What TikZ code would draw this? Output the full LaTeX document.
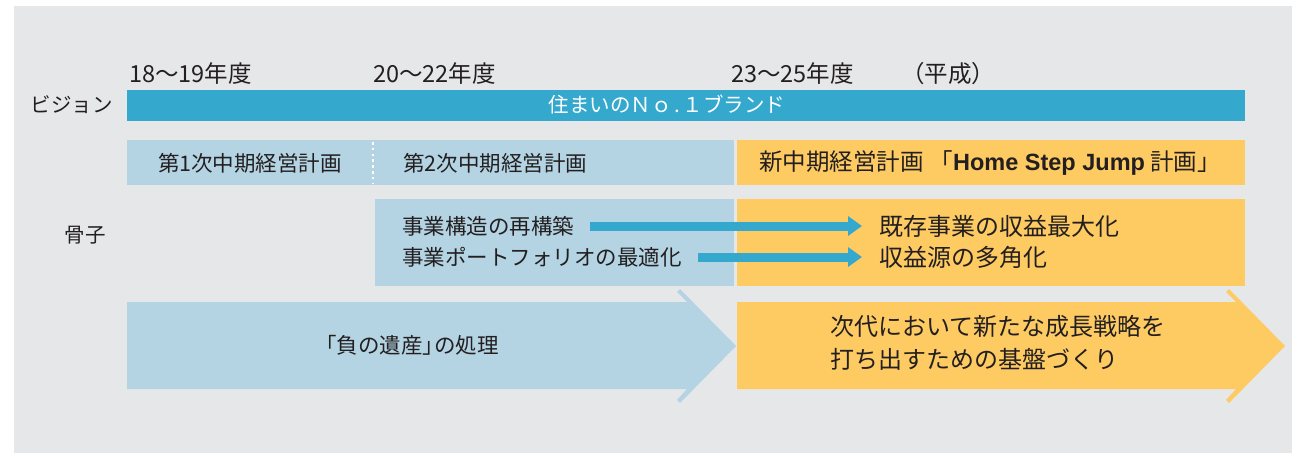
\documentclass[tikz,border=0pt]{standalone}
\usepackage{fontspec}
\setmainfont{Noto Sans CJK JP}
\newfontfamily\latinbold{Liberation Sans}
\usetikzlibrary{arrows.meta}
\definecolor{bggray}{HTML}{E6E7E9}
\definecolor{vblue}{HTML}{35A8CE}
\definecolor{lblue}{HTML}{B4D4E3}
\definecolor{orng}{HTML}{FECB63}
\definecolor{ink}{HTML}{231F20}
\begin{document}
\begin{tikzpicture}[x=1pt,y=-1pt,
  txt/.style={inner sep=0pt, text=ink, font=\fontsize{20.5}{24}\selectfont},
  yrtxt/.style={inner sep=0pt, text=ink, font=\fontsize{23.5}{26}\selectfont},
  midtxt/.style={inner sep=0pt, text=ink, font=\fontsize{21.5}{25}\selectfont},
  bigtxt/.style={inner sep=0pt, text=ink, font=\fontsize{24}{33}\selectfont},
  bigarrow/.style={draw=vblue, line width=9pt, -{Triangle[length=14pt,width=19pt]}}]
\useasboundingbox (0,0) rectangle (1292,453);
\fill[white] (0,0) rectangle (1292,453);
\fill[bggray] (14,6) rectangle (1292,453);

% year labels
\node[yrtxt, anchor=west] (y1) at (129,74) {18～19年度};
\node[yrtxt, anchor=west] (y2) at (373,74) {20～22年度};
\node[yrtxt, anchor=west] (y3) at (731,74) {23～25年度};
\node[yrtxt, anchor=west] (hs) at (901,74) {（平成）};

% vision
\node[txt, anchor=east] (vl) at (113,105) {ビジョン};
\fill[vblue] (127,90) rectangle (1245,121);
\node[txt, text=white] (vt) at (667,105) {住まいのＮｏ\hspace{0.12em}.\hspace{0.12em}１ブランド};

% plans
\fill[lblue] (127,140) rectangle (734,185);
\fill[orng] (737,140) rectangle (1245,185);
\draw[white, line width=2.6pt, dash pattern=on 2.6pt off 3.2pt] (373,142) -- (373,184);
\node[midtxt] (p1) at (250,163) {第1次中期経営計画};
\node[midtxt, anchor=west] (p2) at (403,163) {第2次中期経営計画};
\node[inner sep=0pt, text=ink, font=\fontsize{23.5}{27}\selectfont] (p3) at (990,163) {新中期経営計画\hspace{0.25em}「{\latinbold\bfseries Home Step Jump} 計画」};

% skeleton
\node[txt] (kl) at (85,235) {骨子};
\fill[lblue] (375,199) rectangle (734,286);
\fill[orng] (737,199) rectangle (1245,286);
\node[midtxt, anchor=west] (t1) at (402,226) {事業構造の再構築};
\node[midtxt, anchor=west] (t2) at (402,257) {事業ポートフォリオの最適化};
\node[bigtxt, anchor=west] (o1) at (879,226) {既存事業の収益最大化};
\node[bigtxt, anchor=west] (o2) at (879,257) {収益源の多角化};
\draw[bigarrow, shorten <=16pt, shorten >=17pt] (t1.east) -- (o1.west);
\draw[bigarrow, shorten <=16pt, shorten >=17pt] (t2.east) -- (o2.west);

% bottom chevrons
\fill[lblue] (127,302) -- (687,302) -- (677,292) -- (680,289) -- (736,346)
  -- (680,403) -- (677,400) -- (687,389) -- (127,389) -- cycle;
\fill[orng] (737,302) -- (1236,302) -- (1226,292) -- (1229,289) -- (1285,346)
  -- (1229,403) -- (1226,400) -- (1236,389) -- (737,389) -- cycle;
\node[midtxt] (b1) at (407,345) {「負の遺産」\hspace{-0.45em}の処理};
\node[bigtxt, anchor=west, align=left] (b2) at (830,343) {次代において新たな成長戦略を\\打ち出すための基盤づくり};
\end{tikzpicture}
\end{document}
